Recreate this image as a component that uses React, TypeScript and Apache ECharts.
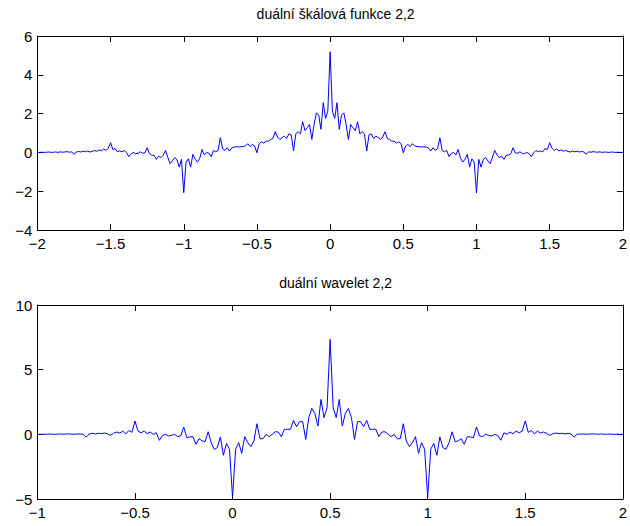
import React, { useEffect, useRef } from "react";
import * as echarts from "echarts";

// sample grid of the cascade (step 1/64)
const STEP = 1 / 64;
const PHI_X_START = -2;
const WAVELET_X_START = -1;

// dual scaling function 2,2 : values at x = -2, -2+1/64, ..., 2
const phiValues = [
  0, 0, 0.01, 0, 0.01, 0.02, 0, 0.01, 0.02, 0,
  0.03, 0.01, 0.02, 0.04, 0.01, 0.03, -0.1, 0.02, 0.05, 0.02,
  0.06, 0.03, 0.07, 0.02, 0.05, 0.1, 0.06, 0.13, 0.08, 0.18,
  0.1, 0.22, 0.5, 0.15, 0.2, 0.03, 0.08, 0.03, 0.1, -0.02,
  -0.22, -0.07, 0, -0.07, -0.05, 0.03, -0.04, -0.03, 0.24, -0.07,
  -0.14, -0.15, -0.36, -0.19, -0.27, -0.14, 0.1, -0.24, -0.58, -0.44,
  -0.27, -0.36, -0.76, -0.36, -2.08, -0.5, -0.33, -0.76, -0.1, -0.35,
  -0.5, -0.3, 0.15, -0.13, 0, -0.05, -0.22, 0.1, 0.03, 0.1,
  0.76, 0.19, 0.1, 0.24, 0.07, 0.24, 0.27, 0.29, 0.28, 0.29,
  0.3, 0.33, 0.45, 0.3, 0.41, 0.33, -0.02, 0.45, 0.55, 0.48,
  0.58, 0.58, 0.67, 0.72, 1.07, 0.79, 0.67, 0.76, 0.84, 0.72,
  0.96, 0.9, 0.07, 0.96, 1.07, 0.96, 1.58, 1.13, 1.27, 1.44,
  0.67, 1.44, 2.04, 1.92, 1.19, 2.56, 1.75, 2.13, 5.19,
  2.13, 1.75, 2.56, 1.19, 1.92, 2.04, 1.44, 0.67,
  1.44, 1.27, 1.13, 1.58, 0.96, 1.07, 0.96, 0.07, 0.9, 0.96,
  0.72, 0.84, 0.76, 0.67, 0.79, 1.07, 0.72, 0.67, 0.58, 0.58,
  0.48, 0.55, 0.45, -0.02, 0.33, 0.41, 0.3, 0.45, 0.33, 0.3,
  0.29, 0.28, 0.29, 0.27, 0.24, 0.07, 0.24, 0.1, 0.19, 0.76,
  0.1, 0.03, 0.1, -0.22, -0.05, 0, -0.13, 0.15, -0.3, -0.5,
  -0.35, -0.1, -0.76, -0.33, -0.5, -2.08, -0.36, -0.76, -0.36, -0.27,
  -0.44, -0.58, -0.24, 0.1, -0.14, -0.27, -0.19, -0.36, -0.15, -0.14,
  -0.07, 0.24, -0.03, -0.04, 0.03, -0.05, -0.07, 0, -0.07, -0.22,
  -0.02, 0.1, 0.03, 0.08, 0.03, 0.2, 0.15, 0.5, 0.22, 0.1,
  0.18, 0.08, 0.13, 0.06, 0.1, 0.05, 0.02, 0.07, 0.03, 0.06,
  0.02, 0.05, 0.02, -0.1, 0.03, 0.01, 0.04, 0.02, 0.01, 0.03,
  0, 0.02, 0.01, 0, 0.02, 0.01, 0, 0.01, 0, 0,
];

// dual wavelet 2,2 : values at x = -1, -1+1/64, ..., 2
const waveletValues = [
  0, 0, 0.01, 0, 0.02, 0.01, 0, 0.03, 0.01, 0.02,
  0.04, 0.02, 0.01, 0.03, 0.02, 0.01, -0.22, 0.03, 0.08, 0.03,
  0.08, 0.06, 0.1, 0.04, -0.08, 0.08, 0.18, 0.1, 0.25, 0.03,
  0.3, 0.15, 1.03, 0.25, 0.12, 0.25, 0.05, 0.18, 0, 0.12,
  -0.46, -0.1, 0, -0.12, -0.08, 0, -0.18, -0.12, 0.57, -0.26,
  -0.2, -0.18, -0.77, -0.34, -0.5, -0.57, 0.2, -0.65, -1.16, -1.03,
  -0.2, -1.62, -0.7, -1.16, -4.88, -1.16, -0.64, -1.47, -0.18, -0.64,
  -0.95, -0.52, 0.82, -0.34, -0.34, 0, -0.18, 0, 0.2, 0.18,
  -0.18, 0.39, 0.39, 0.39, 1.08, 0.59, 0.98, 0.98, -0.39, 1.29,
  2.0, 1.62, 0.64, 2.7, 1.29, 2.06, 7.34,
  2.06, 1.29, 2.7, 0.64, 1.62, 2.0, 1.29, -0.39, 0.98, 0.98,
  0.59, 1.08, 0.39, 0.39, 0.39, -0.18, 0.18, 0.2, 0, -0.18,
  0, -0.34, -0.34, 0.82, -0.52, -0.95, -0.64, -0.18, -1.47, -0.64,
  -1.16, -4.88, -1.16, -0.7, -1.62, -0.2, -1.03, -1.16, -0.65, 0.2,
  -0.57, -0.5, -0.34, -0.77, -0.18, -0.2, -0.26, 0.57, -0.12, -0.18,
  0, -0.08, -0.12, 0, -0.1, -0.46, 0.12, 0, 0.18, 0.05,
  0.25, 0.12, 0.25, 1.03, 0.15, 0.3, 0.03, 0.25, 0.1, 0.18,
  0.08, -0.08, 0.04, 0.1, 0.06, 0.08, 0.03, 0.08, 0.03, -0.22,
  0.01, 0.02, 0.03, 0.01, 0.02, 0.04, 0.02, 0.01, 0.03, 0,
  0.01, 0.02, 0, 0.01, 0, 0,
];

const titles = ["duální škálová funkce 2,2", "duální wavelet 2,2"];
const phiXRange = [-2, 2];
const phiYRange = [-4, 6];
const waveletXRange = [-1, 2];
const waveletYRange = [-5, 10];
const xTickStep = 0.5;
const phiYTickStep = 2;
const waveletYTickStep = 5;

const FONT = "'Liberation Sans', Arial, Helvetica, sans-serif";
const fmt = (v: number) => String(+v.toFixed(4)).replace("-", "\u2212");

const lineSt = { color: "#000", width: 1 };
const TICK_FONT = 15;
const TITLE_FONT = 14;

function makeX(gridIndex: number, range: number[], interval: number) {
  const base = {
    type: "value",
    gridIndex,
    min: range[0],
    max: range[1],
    interval,
    splitLine: { show: false },
    axisLine: { show: true, onZero: false, lineStyle: lineSt },
    axisTick: { show: true, inside: true, length: 6, lineStyle: lineSt },
  };
  return [
    {
      ...base,
      position: "bottom",
      axisLabel: { show: true, color: "#000", fontSize: TICK_FONT, fontFamily: FONT, margin: 6, formatter: fmt },
    },
    { ...base, position: "top", axisLabel: { show: false } },
  ];
}

function makeY(gridIndex: number, range: number[], interval: number) {
  const base = {
    type: "value",
    gridIndex,
    min: range[0],
    max: range[1],
    interval,
    splitLine: { show: false },
    axisLine: { show: true, onZero: false, lineStyle: lineSt },
    axisTick: { show: true, inside: true, length: 6, lineStyle: lineSt },
  };
  return [
    {
      ...base,
      position: "left",
      axisLabel: { show: true, color: "#000", fontSize: TICK_FONT, fontFamily: FONT, margin: 5, formatter: fmt },
    },
    { ...base, position: "right", axisLabel: { show: false } },
  ];
}

export default function App() {
  const ref = useRef<HTMLDivElement>(null);
  useEffect(() => {
    if (!ref.current) return;
    const chart = echarts.init(ref.current, undefined, { renderer: "svg" });
    const phiData = phiValues.map((v, i) => [PHI_X_START + i * STEP, v]);
    const wavData = waveletValues.map((v, i) => [WAVELET_X_START + i * STEP, v]);
    const AX_LEFT = 37.4;
    const AX_W = 586.4;
    chart.setOption({
      animation: false,
      backgroundColor: "#fff",
      title: [
        {
          text: titles[0],
          left: AX_LEFT + AX_W / 2,
          top: 2,
          textAlign: "center",
          textStyle: { fontSize: TITLE_FONT, fontWeight: "normal", color: "#000", fontFamily: FONT },
        },
        {
          text: titles[1],
          left: AX_LEFT + AX_W / 2,
          top: 271,
          textAlign: "center",
          textStyle: { fontSize: TITLE_FONT, fontWeight: "normal", color: "#000", fontFamily: FONT },
        },
      ],
      grid: [
        { left: AX_LEFT, top: 36, width: AX_W, height: 194 },
        { left: AX_LEFT, top: 305, width: AX_W, height: 194 },
      ],
      xAxis: [...makeX(0, phiXRange, xTickStep), ...makeX(1, waveletXRange, xTickStep)],
      yAxis: [...makeY(0, phiYRange, phiYTickStep), ...makeY(1, waveletYRange, waveletYTickStep)],
      series: [
        {
          type: "line",
          xAxisIndex: 0,
          yAxisIndex: 0,
          data: phiData,
          showSymbol: false,
          symbol: "none",
          lineStyle: { color: "#0000ff", width: 1 },
          itemStyle: { color: "#0000ff" },
        },
        {
          type: "line",
          xAxisIndex: 2,
          yAxisIndex: 2,
          data: wavData,
          showSymbol: false,
          symbol: "none",
          lineStyle: { color: "#0000ff", width: 1 },
          itemStyle: { color: "#0000ff" },
        },
      ],
    });
    return () => chart.dispose();
  }, []);
  return (
    <div
      ref={ref}
      style={{ position: "absolute", left: 0, top: 0, width: 630, height: 526, background: "#fff" }}
    />
  );
}
